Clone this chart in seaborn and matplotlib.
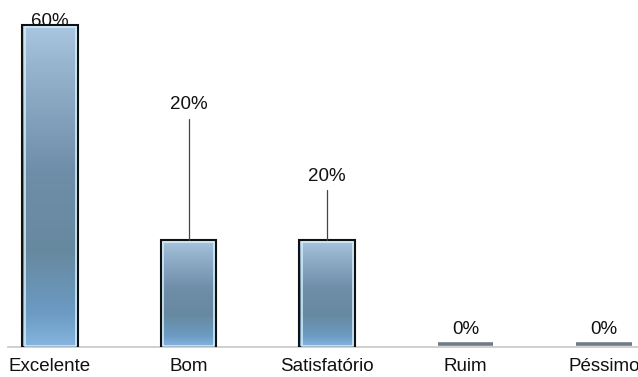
import numpy as np
import pandas as pd
import matplotlib
matplotlib.use("Agg")
import matplotlib.pyplot as plt
from matplotlib.colors import LinearSegmentedColormap
from matplotlib.patches import Rectangle
import seaborn as sns

categorias = ["Excelente", "Bom", "Satisfatório", "Ruim", "Péssimo"]
percentuais = [60, 20, 20, 0, 0]

# label placement (value-axis units above the baseline) and leader lines
label_y = [60.6, 45.2, 31.8, 3.2, 3.2]
leader_top = [None, 42.4, 29.2, None, None]

sns.set_theme(style="white")
plt.rcParams["font.family"] = ["Liberation Sans", "DejaVu Sans"]

df = pd.DataFrame({"categoria": categorias, "pct": percentuais})

W, H = 638, 377
fig = plt.figure(figsize=(W / 100, H / 100), dpi=100)
base_px = 347
ax = fig.add_axes([0, (H - base_px) / H, 1, base_px / H])

sns.barplot(data=df, x="categoria", y="pct", color="#6d8ca8", width=0.40,
            ax=ax, saturation=1, errorbar=None)

px_per_x = 138.5
xmin = -50 / px_per_x
ax.set_xlim(xmin, xmin + W / px_per_x)
px_per_y = 322 / 60
ax.set_ylim(0, base_px / px_per_y)

grad = LinearSegmentedColormap.from_list(
    "barra",
    [(0.0, "#aac6e0"), (0.12, "#98b5d0"), (0.45, "#6f8ea9"),
     (0.7, "#67899f"), (0.9, "#6c9bc4"), (1.0, "#86b6df")])
g = np.linspace(0, 1, 256).reshape(-1, 1)

dx = 2.2 / px_per_x
dy = 2.2 / px_per_y
for patch, v in zip(ax.patches, percentuais):
    x0, w = patch.get_x(), patch.get_width()
    h = patch.get_height()
    if h > 0:
        patch.set_facecolor("none")
        patch.set_edgecolor("#111111")
        patch.set_linewidth(1.5)
        patch.set_zorder(4)
        im = ax.imshow(g, cmap=grad, aspect="auto", origin="upper",
                       extent=[x0, x0 + w, 0, h], zorder=3,
                       interpolation="bilinear")
        im.set_clip_path(patch)
        ax.add_patch(Rectangle((x0 + dx, dy * 0.3), w - 2 * dx, h - dy * 1.3,
                               fill=False, edgecolor="#d4f0fb", lw=1.1,
                               zorder=4))
    else:
        patch.set_visible(False)
        ax.plot([x0, x0 + w], [v + 0.65, v + 0.65], color="#6f7c88",
                lw=2.6, solid_capstyle="butt", zorder=4)

for i, v in enumerate(percentuais):
    ax.text(i, label_y[i], f"{v}%", ha="center", va="center",
            fontsize=13.5, color="#111111", zorder=6)
    if leader_top[i] is not None:
        ax.plot([i, i], [v, leader_top[i]], color="#444444", lw=0.9,
                zorder=5)

ax.set_xlabel("")
ax.set_ylabel("")
ax.set_yticks([])
ax.tick_params(axis="x", length=0, pad=8, labelsize=13.5,
               labelcolor="#111111")
for s in ["top", "left", "right"]:
    ax.spines[s].set_visible(False)
ax.spines["bottom"].set_color("#c8c8c8")
ax.spines["bottom"].set_linewidth(1.2)
ax.spines["bottom"].set_bounds(xmin + 8 / px_per_x, xmin + W / px_per_x)
ax.patch.set_alpha(0)
for t in ax.get_xticklabels():
    t.set_clip_on(False)

fig.savefig("out.png", dpi=100)
